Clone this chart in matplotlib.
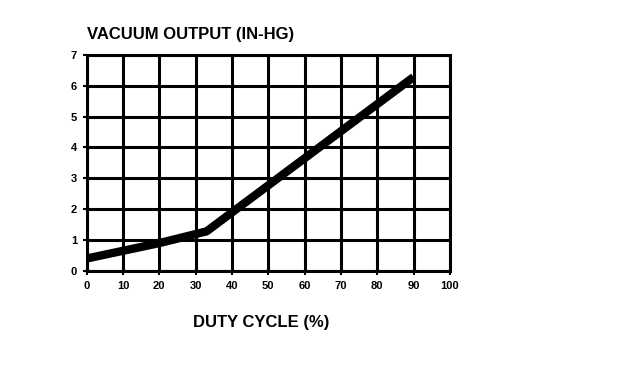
import matplotlib
matplotlib.use("Agg")
import matplotlib.pyplot as plt

duty_cycle = [0, 20, 33, 90]
vacuum = [0.4, 0.9, 1.28, 6.28]
x_ticks = [0, 10, 20, 30, 40, 50, 60, 70, 80, 90, 100]
y_ticks = [0, 1, 2, 3, 4, 5, 6, 7]

plt.rcParams['font.family'] = ['Liberation Sans', 'DejaVu Sans']
fig = plt.figure(figsize=(6.24, 3.68), dpi=100)
ax = fig.add_axes([0.139, 0.264, 0.582, 0.587])
ax.set_xlim(0, 100)
ax.set_ylim(0, 7)
ax.set_xticks(x_ticks)
ax.set_yticks(y_ticks)
ax.grid(True, color='black', linewidth=2.2)
ax.set_axisbelow(True)
for s in ax.spines.values():
    s.set_linewidth(2.2)
ax.tick_params(axis='both', length=3, width=1.5, labelsize=8, pad=4)
for lbl in ax.get_xticklabels() + ax.get_yticklabels():
    lbl.set_fontweight('bold')
ax.plot(duty_cycle, vacuum, color='black', linewidth=6, solid_capstyle='butt', clip_on=False)
fig.text(0.139, 0.905, 'VACUUM OUTPUT (IN-HG)', fontsize=12, fontweight='bold', ha='left', va='center')
fig.text(0.418, 0.125, 'DUTY CYCLE (%)', fontsize=12, fontweight='bold', ha='center', va='center')
fig.savefig('out.png', dpi=100, facecolor='white')
